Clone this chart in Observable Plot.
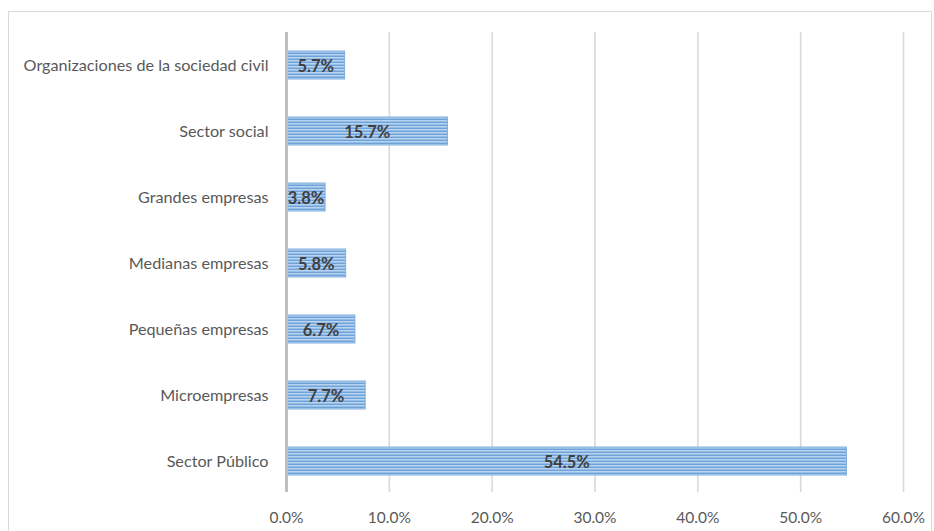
<!DOCTYPE html>
<html>
<head>
<meta charset="utf-8">
<script src="https://cdn.jsdelivr.net/npm/d3@7"></script>
<script src="https://cdn.jsdelivr.net/npm/@observablehq/plot@0.6"></script>
<style>
  html, body { margin: 0; padding: 0; background: #fff; overflow: hidden; }
  #wrap { position: relative; width: 934px; height: 531px; }
  #border { position: absolute; left: 8px; top: 11px; width: 924px; height: 560px;
            border: 1px solid #d9d9d9; border-bottom: none; box-sizing: border-box; }
  #chart { position: absolute; left: 0; top: 0; }
</style>
</head>
<body>
<div id="wrap"><div id="border"></div><div id="chart"></div></div>
<script>
const categories = [
  "Organizaciones de la sociedad civil",
  "Sector social",
  "Grandes empresas",
  "Medianas empresas",
  "Pequeñas empresas",
  "Microempresas",
  "Sector Público"
];
const values = [0.057, 0.157, 0.038, 0.058, 0.067, 0.077, 0.545];
const xTicks = [0, 0.1, 0.2, 0.3, 0.4, 0.5, 0.6];

const data = categories.map((c, i) => ({category: c, value: values[i]}));

const defs = () => {
  const d = d3.create("svg:defs");
  const p = d.append("pattern")
    .attr("id", "stripes")
    .attr("patternUnits", "userSpaceOnUse")
    .attr("width", 8).attr("height", 3);
  p.append("rect").attr("width", 8).attr("height", 3).attr("fill", "#b8d3ef");
  p.append("rect").attr("y", 1.6).attr("width", 8).attr("height", 1.3).attr("fill", "#669dd8");
  return d.node();
};

const chart = Plot.plot({
  width: 934,
  height: 531,
  marginLeft: 286,
  marginRight: 31,
  marginTop: 30,
  marginBottom: 36,
  style: {fontFamily: "Lato, 'Open Sans', sans-serif", fontSize: "16px", color: "#595959", background: "transparent"},
  x: {domain: [0, 0.6], ticks: xTicks, tickFormat: d3.format(".1%"), label: null},
  y: {domain: categories, paddingInner: 0.58, paddingOuter: 0.29, label: null},
  marks: [
    defs,
    Plot.gridX(xTicks, {stroke: "#d9d9d9", strokeOpacity: 1, strokeWidth: 1.6, insetTop: 2, insetBottom: 3}),
    Plot.barX(data, {x: "value", y: "category", fill: "url(#stripes)", stroke: "#7eaee0", strokeWidth: 1}),
    Plot.ruleX([0], {stroke: "#bfbfbf", strokeWidth: 3, insetTop: 2, insetBottom: 3}),
    Plot.text(data, {x: d => d.value / 2, y: "category", dy: 1, text: d => d3.format(".1%")(d.value),
      fill: "#404040", fontWeight: "bold", fontSize: 16.5}),
    Plot.axisX({ticks: xTicks, tickFormat: d3.format(".1%"), tickSize: 0, tickPadding: 16, label: null, fontSize: 15.5}),
    Plot.axisY({tickSize: 0, tickPadding: 18, label: null, fontSize: 16.2})
  ]
});
document.getElementById("chart").appendChild(chart);
</script>
</body>
</html>
